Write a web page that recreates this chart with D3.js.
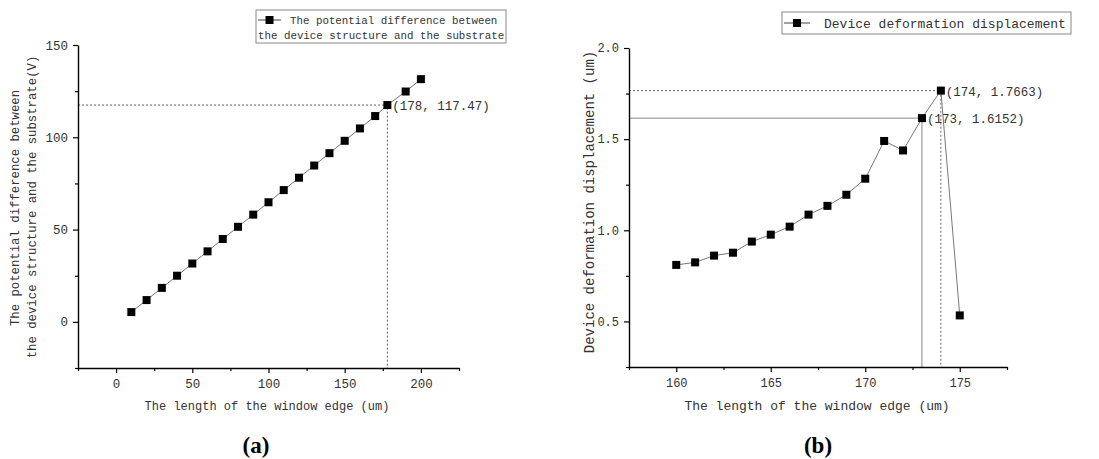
<!DOCTYPE html>
<html>
<head>
<meta charset="utf-8">
<script src="https://cdn.jsdelivr.net/npm/d3@7"></script>
<style>
  body { margin: 0; background: #fff; }
  svg { display: block; }
  text { font-family: "Liberation Mono", "DejaVu Sans Mono", monospace; fill: #333; }
</style>
</head>
<body>
<div id="chart-mount"></div>
<script>
var WIDTH = 1099;
var HEIGHT = 459;

// (a) potential difference vs window edge length
var lengthA = [10, 20, 30, 40, 50, 60, 70, 80, 90, 100, 110, 120, 130, 140, 150, 160, 170, 178, 190, 200];
var voltageA = [5.3, 11.8, 18.4, 25.0, 31.6, 38.2, 44.9, 51.5, 58.1, 64.8, 71.4, 78.1, 84.7, 91.4, 98.1, 104.8, 111.5, 117.47, 124.8, 131.5];
var xTicksA = [0, 50, 100, 150, 200];
var xMinorA = [-25, 25, 75, 125, 175, 225];
var yTicksA = [0, 50, 100, 150];
var yMinorA = [-25, 25, 75, 125];
var markA = { x: 178, y: 117.47, label: '(178, 117.47)' };

// (b) deformation displacement vs window edge length
var lengthB = [160, 161, 162, 163, 164, 165, 166, 167, 168, 169, 170, 171, 172, 173, 174, 175];
var displB = [0.81, 0.824, 0.861, 0.877, 0.938, 0.976, 1.02, 1.086, 1.134, 1.195, 1.283, 1.49, 1.438, 1.6152, 1.7663, 0.533];
var xTicksB = [160, 165, 170, 175];
var xMinorB = [157.5, 162.5, 167.5, 172.5, 177.5];
var yTicksB = [0.5, 1.0, 1.5, 2.0];
var yMinorB = [0.25, 0.75, 1.25, 1.75];
var markB1 = { x: 173, y: 1.6152, label: '(173, 1.6152)' };
var markB2 = { x: 174, y: 1.7663, label: '(174, 1.7663)' };

var $svg = d3.select('#chart-mount').append('svg')
  .attr('width', WIDTH)
  .attr('height', HEIGHT);

$svg.append('rect')
  .attr('width', WIDTH)
  .attr('height', HEIGHT)
  .attr('fill', '#fff');

function drawAxes (g, x, y, opts) {
  var bottom = y.range()[0];
  var left = x.range()[0];

  // minor ticks first, then labelled ones on top
  g.append('g')
    .attr('transform', 'translate(0,' + bottom + ')')
    .call(d3.axisBottom(x).tickValues(opts.xMinor).tickSize(3).tickFormat(''))
    .call(function (a) { a.select('.domain').remove(); });
  g.append('g')
    .attr('transform', 'translate(' + left + ',0)')
    .call(d3.axisLeft(y).tickValues(opts.yMinor).tickSize(3).tickFormat(''))
    .call(function (a) { a.select('.domain').remove(); });

  var xa = g.append('g')
    .attr('transform', 'translate(0,' + bottom + ')')
    .call(d3.axisBottom(x).tickValues(opts.xTicks).tickSize(5).tickSizeOuter(0).tickPadding(6));
  var ya = g.append('g')
    .attr('transform', 'translate(' + left + ',0)')
    .call(d3.axisLeft(y).tickValues(opts.yTicks).tickSize(5).tickSizeOuter(0).tickPadding(5).tickFormat(opts.yFormat));

  [xa, ya].forEach(function (a) {
    a.attr('font-size', null).attr('font-family', null);
    a.select('.domain').attr('stroke-width', 1.4);
    a.selectAll('text')
      .style('font-family', '"Liberation Mono", monospace')
      .style('font-size', opts.tickFont)
      .attr('fill', '#333');
  });
  g.selectAll('.tick line').attr('stroke', '#000').attr('stroke-width', 1.2);
}

function drawSeries (g, x, y, xs, ys) {
  var pts = xs.map(function (d, i) { return [d, ys[i]]; });
  g.append('path')
    .datum(pts)
    .attr('fill', 'none')
    .attr('stroke', '#777')
    .attr('stroke-width', 1)
    .attr('d', d3.line().x(function (d) { return x(d[0]); }).y(function (d) { return y(d[1]); }));
  g.selectAll('rect.pt')
    .data(pts)
    .enter()
      .append('rect')
      .attr('class', 'pt')
      .attr('x', function (d) { return x(d[0]) - 4; })
      .attr('y', function (d) { return y(d[1]) - 4; })
      .attr('width', 8)
      .attr('height', 8)
      .attr('fill', '#000');
}

function drawGuide (g, x, y, mark, dashed) {
  var left = x.range()[0];
  var bottom = y.range()[0];
  var path = d3.path();
  path.moveTo(left, y(mark.y));
  path.lineTo(x(mark.x), y(mark.y));
  path.lineTo(x(mark.x), bottom);
  g.append('path')
    .attr('d', path.toString())
    .attr('fill', 'none')
    .attr('stroke', dashed ? '#666' : '#888')
    .attr('stroke-width', 1)
    .attr('stroke-dasharray', dashed ? '2,2' : null);
}

function drawLegend (g, box, lines, fontSize) {
  g.append('rect')
    .attr('x', box.x).attr('y', box.y)
    .attr('width', box.w).attr('height', box.h)
    .attr('fill', '#fff')
    .attr('stroke', '#888');
  g.append('line')
    .attr('x1', box.x + 2).attr('x2', box.x + box.sym)
    .attr('y1', box.y + box.lineY).attr('y2', box.y + box.lineY)
    .attr('stroke', '#444');
  g.append('rect')
    .attr('x', box.x + box.sym / 2 - 3).attr('y', box.y + box.lineY - 4)
    .attr('width', 8).attr('height', 8)
    .attr('fill', '#000');
  g.selectAll('text.leg')
    .data(lines)
    .enter()
      .append('text')
      .attr('class', 'leg')
      .attr('x', function (d) { return d.x; })
      .attr('y', function (d) { return d.y; })
      .attr('font-size', fontSize)
      .text(function (d) { return d.t; });
}

function drawCaption (x, label) {
  $svg.append('text')
    .attr('x', x).attr('y', 453)
    .attr('text-anchor', 'middle')
    .style('font-family', '"Liberation Serif", "DejaVu Serif", serif')
    .style('font-weight', 'bold')
    .style('font-size', '23px')
    .style('fill', '#000')
    .text(label);
}

// ---- panel (a)
var xA = d3.scaleLinear().domain([-25, 225]).range([78, 459]);
var yA = d3.scaleLinear().domain([-25, 150]).range([368, 45]);
var gA = $svg.append('g');

drawGuide(gA, xA, yA, markA, true);
drawSeries(gA, xA, yA, lengthA, voltageA);
drawAxes(gA, xA, yA, {
  xTicks: xTicksA, xMinor: xMinorA, yTicks: yTicksA, yMinor: yMinorA,
  yFormat: d3.format('d'), tickFont: '12.5px'
});
gA.append('text')
  .attr('x', xA(markA.x) + 5)
  .attr('y', yA(markA.y) + 5)
  .attr('font-size', '12.5px')
  .text(markA.label);

gA.append('text')
  .attr('x', 267).attr('y', 410)
  .attr('text-anchor', 'middle')
  .attr('font-size', '12px')
  .text('The length of the window edge (um)');
gA.append('text')
  .attr('transform', 'translate(19,208) rotate(-90)')
  .attr('text-anchor', 'middle')
  .attr('font-size', '12.3px')
  .text('The potential difference between');
gA.append('text')
  .attr('transform', 'translate(36,207) rotate(-90)')
  .attr('text-anchor', 'middle')
  .attr('font-size', '12.3px')
  .text('the device structure and the substrate(V)');

drawLegend(gA, { x: 256, y: 10, w: 250, h: 33, sym: 25, lineY: 10 }, [
  { x: 290, y: 24, t: 'The potential difference between' },
  { x: 258, y: 39, t: 'the device structure and the substrate' }
], '10.8px');

drawCaption(256, '(a)');

// ---- panel (b)
var xB = d3.scaleLinear().domain([157.5, 177.5]).range([629, 1007]);
var yB = d3.scaleLinear().domain([0.25, 2.0]).range([367, 48]);
var gB = $svg.append('g');

drawGuide(gB, xB, yB, markB1, false);
drawGuide(gB, xB, yB, markB2, true);
drawSeries(gB, xB, yB, lengthB, displB);
drawAxes(gB, xB, yB, {
  xTicks: xTicksB, xMinor: xMinorB, yTicks: yTicksB, yMinor: yMinorB,
  yFormat: d3.format('.1f'), tickFont: '12px'
});
[markB1, markB2].forEach(function (m) {
  gB.append('text')
    .attr('x', xB(m.x) + 5)
    .attr('y', yB(m.y) + 5)
    .attr('font-size', '12.5px')
    .text(m.label);
});

gB.append('text')
  .attr('x', 817).attr('y', 410)
  .attr('text-anchor', 'middle')
  .attr('font-size', '13px')
  .text('The length of the window edge (um)');
gB.append('text')
  .attr('transform', 'translate(594,202) rotate(-90)')
  .attr('text-anchor', 'middle')
  .attr('font-size', '14px')
  .text('Device deformation displacement (um)');

drawLegend(gB, { x: 782, y: 12, w: 289, h: 22, sym: 28, lineY: 11 }, [
  { x: 824, y: 28, t: 'Device deformation displacement' }
], '13px');

drawCaption(818, '(b)');
</script>
</body>
</html>
